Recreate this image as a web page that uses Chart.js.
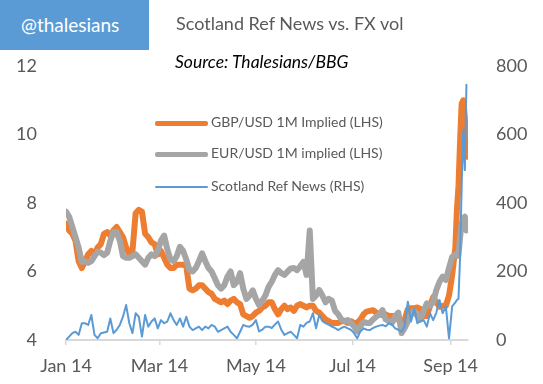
<!DOCTYPE html>
<html><head><meta charset="utf-8">
<script src="https://cdn.jsdelivr.net/npm/chart.js@4"></script>
<style>
html,body{margin:0;padding:0;background:#fff;}
#wrap{position:relative;width:543px;height:384px;overflow:hidden;font-family:Lato,"Open Sans",sans-serif;}
canvas{position:absolute;left:0;top:0;}
#box{position:absolute;left:0;top:0;width:149px;height:50px;background:#5B9BD5;color:#fff;font-size:19px;line-height:50px;text-indent:21px;}
#title{position:absolute;left:176px;top:12px;font-size:18px;color:#595959;white-space:nowrap;}
#src{position:absolute;left:175px;top:51px;font-size:17.5px;font-style:italic;color:#000;white-space:nowrap;}
.lg{position:absolute;left:155px;font-size:14px;color:#595959;white-space:nowrap;height:20px;line-height:20px;}
.lg span{display:inline-block;width:53px;vertical-align:middle;margin-right:3px;border-radius:2px;}
</style></head>
<body><div id="wrap">
<canvas id="c" width="543" height="384"></canvas>
<div id="box">@thalesians</div>
<div id="title">Scotland Ref News vs. FX vol</div>
<div id="src">Source: Thalesians/BBG</div>
<div class="lg" style="top:112px"><span style="height:4.5px;background:#ED7D31"></span>GBP/USD 1M Implied (LHS)</div>
<div class="lg" style="top:143px"><span style="height:4.5px;background:#A5A5A5"></span>EUR/USD 1M implied (LHS)</div>
<div class="lg" style="top:176px"><span style="height:2px;background:#5B9BD5"></span>Scotland Ref News (RHS)</div>
</div>
<script>
// day of year 2014 (Jan 1 = 0)
const days = [0,2,4,6,8,10,12,14,16,18,20,22,24,26,28,30,32,34,36,38,40,42,44,46,48,50,52,54,56,58,60,62,64,66,68,70,72,74,76,78,80,82,84,86,88,90,92,94,96,98,100,102,104,106,108,110,112,114,116,118,120,122,124,126,128,130,132,134,136,138,140,142,144,146,148,150,152,154,156,158,160,162,164,166,168,170,172,174,176,178,180,182,184,186,188,190,192,194,196,198,200,202,204,206,208,210,212,214,216,218,220,222,224,226,228,230,232,234,236,238,240,242,244,246,247,248,249,250,251,252,253];
const gbpVol = [7.4,7.2,7.1,6.9,6.3,6.1,6.3,6.5,6.6,6.5,6.7,6.8,7.1,7.15,7.05,7.2,7.3,7.15,7.0,6.7,6.5,6.6,7.7,7.8,7.75,7.1,7.0,6.85,6.8,6.5,6.6,6.4,6.2,6.1,6.1,6.2,6.2,6.2,6.15,5.5,5.45,5.5,5.6,5.6,5.5,5.4,5.35,5.2,5.15,5.1,5.15,5.05,5.15,5.2,5.1,5.05,4.75,4.7,4.65,4.7,4.8,4.85,4.95,5.0,5.1,5.1,4.9,4.75,4.9,5.0,4.9,4.95,4.85,5.0,5.05,5.0,4.95,5.0,5.0,4.85,4.8,4.7,4.6,4.55,4.5,4.5,4.5,4.55,4.55,4.5,4.55,4.5,4.5,4.6,4.75,4.83,4.85,4.87,4.8,4.75,4.73,4.75,4.7,4.7,4.68,4.6,4.45,4.6,4.9,4.93,4.93,4.95,4.9,4.7,4.7,5.0,5.25,5.1,4.97,5.0,5.0,5.3,5.9,6.7,7.8,8.5,9.8,10.9,11.0,10.5,9.35];
const eurVol = [7.75,7.6,7.3,7.0,6.7,6.28,6.3,6.25,6.3,6.45,6.58,6.55,6.48,6.55,6.9,7.15,7.15,6.9,6.45,6.4,6.4,6.45,6.5,6.4,6.3,6.2,6.4,6.5,6.45,6.6,6.9,7.05,6.65,6.35,6.3,6.45,6.72,6.6,6.35,6.05,6.0,6.1,6.3,6.53,6.3,6.1,6.0,5.8,5.6,5.5,5.6,5.85,6.0,5.6,5.7,5.95,5.5,5.2,5.3,5.45,5.2,5.02,5.15,5.3,5.55,5.7,5.9,6.04,5.95,5.9,6.0,6.09,6.1,6.04,6.15,6.28,5.9,7.2,5.2,5.3,5.46,5.3,5.1,5.2,5.15,4.85,4.75,4.6,4.55,4.58,4.5,4.4,4.25,4.4,4.53,4.5,4.5,4.6,4.68,4.75,4.87,4.6,4.55,4.5,4.7,4.8,4.2,4.35,4.55,4.75,4.85,4.7,4.6,4.85,5.07,5.0,5.1,5.46,5.7,5.85,5.75,6.1,6.43,6.5,6.45,6.5,7.0,7.4,7.55,7.6,7.2];
const refNews = [0,10,20,24,15,49,49,44,73,15,5,20,22,24,63,20,30,44,68,102,49,20,78,68,10,73,39,54,63,34,58,49,54,78,58,44,63,39,68,39,29,34,39,29,39,34,44,39,24,29,34,39,24,15,5,24,44,40,39,45,58,25,30,39,39,35,45,54,30,15,20,24,15,5,44,39,50,54,78,34,73,55,49,45,39,35,29,35,39,34,30,20,5,25,34,30,29,35,39,42,44,40,49,45,34,30,24,40,112,54,92,49,55,58,39,78,58,80,117,78,98,5,98,110,117,120,243,450,613,496,745];
const tickDays = [0,59,120,181,243];
const tickLabels = ['Jan 14','Mar 14','May 14','Jul 14','Sep 14'];

const pts = arr => arr.map((v,i)=>({x:days[i],y:v}));
const txt = '#595959';
const font = {family:'Lato, "Open Sans", sans-serif', size:18};

new Chart(document.getElementById('c'), {
  type:'line',
  data:{datasets:[
    {label:'GBP/USD 1M Implied (LHS)',data:pts(gbpVol),yAxisID:'yL',borderColor:'#ED7D31',borderWidth:6,order:3},
    {label:'EUR/USD 1M implied (LHS)',data:pts(eurVol),yAxisID:'yL',borderColor:'#A5A5A5',borderWidth:6,order:2},
    {label:'Scotland Ref News (RHS)',data:pts(refNews),yAxisID:'yR',borderColor:'#5B9BD5',borderWidth:2,order:1}
  ]},
  options:{
    responsive:false,animation:false,
    layout:{padding:{top:66,left:0,right:0,bottom:0}},
    elements:{point:{radius:0},line:{tension:0,borderJoinStyle:'round',borderCapStyle:'round'}},
    plugins:{legend:{display:false},tooltip:{enabled:false}},
    scales:{
      x:{type:'linear',min:0,max:254,
        afterBuildTicks:s=>{s.ticks=tickDays.map(v=>({value:v}));},
        afterFit:s=>{s.height=44;},
        ticks:{callback:(v)=>{const i=tickDays.indexOf(v);return i>=0?tickLabels[i]:'';},color:txt,font:font,padding:10,maxRotation:0,autoSkip:false},
        grid:{drawOnChartArea:false,drawTicks:true,tickLength:5,color:'#d9d9d9',lineWidth:1.5},
        border:{display:true,color:'#d9d9d9',width:2}
      },
      yL:{position:'left',min:4,max:12,
        afterBuildTicks:s=>{s.ticks=[4,6,8,10,12].map(v=>({value:v}));},
        afterFit:s=>{s.width=66;},
        ticks:{color:txt,font:font,padding:21},
        grid:{display:false},border:{display:false}
      },
      yR:{position:'right',min:0,max:800,
        afterBuildTicks:s=>{s.ticks=[0,200,400,600,800].map(v=>({value:v}));},
        afterFit:s=>{s.width=75;},
        ticks:{color:txt,font:font,padding:20},
        grid:{display:false},border:{display:false}
      }
    }
  }
});
</script>
</body></html>
